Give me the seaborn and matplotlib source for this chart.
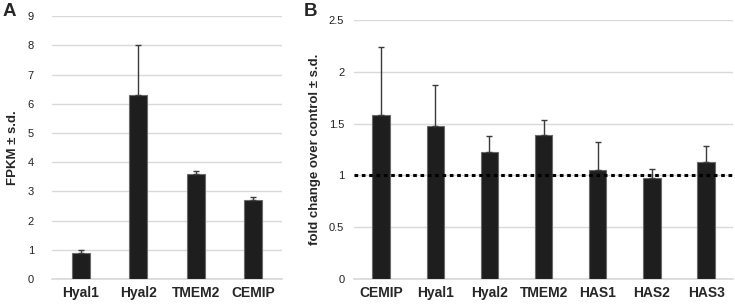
import numpy as np
import pandas as pd
import matplotlib
matplotlib.use("Agg")
import matplotlib.pyplot as plt
import seaborn as sns

# panel A: FPKM
genes_a = ["Hyal1", "Hyal2", "TMEM2", "CEMIP"]
fpkm = [0.89, 6.29, 3.60, 2.69]
fpkm_sd = [0.11, 1.71, 0.09, 0.11]

# panel B: fold change over control
genes_b = ["CEMIP", "Hyal1", "Hyal2", "TMEM2", "HAS1", "HAS2", "HAS3"]
fold = [1.58, 1.48, 1.23, 1.39, 1.05, 0.98, 1.13]
fold_sd = [0.66, 0.39, 0.15, 0.15, 0.27, 0.08, 0.15]

sns.set_theme(style="white")
plt.rcParams["font.family"] = ["Liberation Sans", "DejaVu Sans"]

fig = plt.figure(figsize=(7.35, 3.05), dpi=100)
ax_a = fig.add_axes([0.0707, 0.0852, 0.313, 0.862])
ax_b = fig.add_axes([0.4816, 0.0852, 0.516, 0.849])

bar_kw = dict(color="#1e1e1e", edgecolor="#6a6a6a", linewidth=0.8, width=0.32, saturation=1)
err_kw = dict(fmt="none", ecolor="#3a3a3a", elinewidth=1.0, capsize=2.5, capthick=1.0)


def draw(ax, genes, vals, sds, ymax, step, ylabel, pad):
    df = pd.DataFrame({"gene": genes, "value": vals, "sd": sds})
    sns.barplot(data=df, x="gene", y="value", ax=ax, errorbar=None, zorder=3, **bar_kw)
    ax.errorbar(np.arange(len(genes)), df["value"],
                yerr=[np.zeros(len(genes)), df["sd"]], zorder=4, **err_kw)
    ax.set_ylim(0, ymax)
    ax.set_xlim(-0.5, len(genes) - 0.5)
    ax.set_yticks(np.arange(0, ymax + step / 2, step))
    ax.yaxis.grid(True, color="#d9d9d9", linewidth=1.0, zorder=0)
    ax.set_axisbelow(True)
    for s in ax.spines.values():
        s.set_visible(False)
    ax.spines["bottom"].set_visible(True)
    ax.spines["bottom"].set_color("#d9d9d9")
    ax.tick_params(axis="y", labelsize=8, pad=pad, length=0, colors="#222222")
    ax.tick_params(axis="x", labelsize=10, pad=5, length=0)
    for t in ax.get_xticklabels():
        t.set_fontweight("bold")
    ax.set_xlabel("")
    ax.set_ylabel(ylabel, fontsize=9.5, fontweight="bold", labelpad=6)


draw(ax_a, genes_a, fpkm, fpkm_sd, 9, 1, "FPKM ± s.d.", 13)
draw(ax_b, genes_b, fold, fold_sd, 2.5, 0.5, "fold change over control ± s.d.", 7)
ax_b.set_yticklabels(["0", "0.5", "1", "1.5", "2", "2.5"])
ax_b.axhline(1, color="black", linestyle=(0, (1.2, 1.2)), linewidth=2.2, zorder=5)

fig.text(0.003, 0.99, "A", fontsize=13.5, fontweight="bold", va="top")
fig.text(0.413, 0.99, "B", fontsize=13.5, fontweight="bold", va="top")

fig.savefig("out.png", dpi=100)
